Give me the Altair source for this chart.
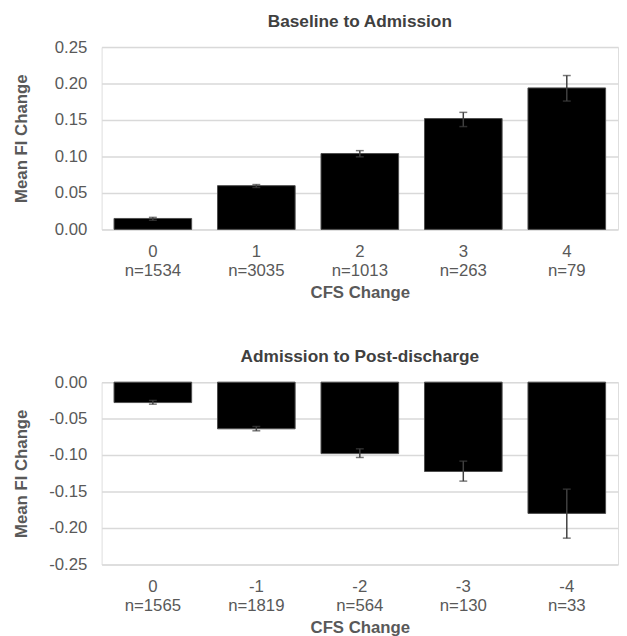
import altair as alt
import pandas as pd

# Top panel: Baseline to Admission
cfs_top = ["0", "1", "2", "3", "4"]
n_top = [1534, 3035, 1013, 263, 79]
mean_top = [0.015, 0.060, 0.104, 0.152, 0.194]
lo_top = [0.0125, 0.0575, 0.0995, 0.141, 0.176]
hi_top = [0.0165, 0.0615, 0.108, 0.1605, 0.211]

# Bottom panel: Admission to Post-discharge
cfs_bot = ["0", "-1", "-2", "-3", "-4"]
n_bot = [1565, 1819, 564, 130, 33]
mean_bot = [-0.028, -0.064, -0.098, -0.1225, -0.180]
lo_bot = [-0.0302, -0.0667, -0.1033, -0.1357, -0.2139]
hi_bot = [-0.0251, -0.0608, -0.0914, -0.1083, -0.1467]

ticks_top = [0.0, 0.05, 0.10, 0.15, 0.20, 0.25]
ticks_bot = [0.0, -0.05, -0.10, -0.15, -0.20, -0.25]

LABEL_COLOR = "#595959"
FONT = "Liberation Sans"
H = 185


def panel(cfs, n, mean, lo, hi, title, domain, ticks):
    cats = [f"{c}|n={k}" for c, k in zip(cfs, n)]
    df = pd.DataFrame({"cat": cats, "mean": mean, "lo": lo, "hi": hi})
    x_axis = alt.Axis(
        labelExpr="split(datum.value, '|')",
        labelAngle=0,
        ticks=False,
        domain=False,
        labelPadding=14,
        labelLineHeight=20,
        labelFontSize=17,
        labelColor=LABEL_COLOR,
        labelFont=FONT,
        titleFontSize=17,
        titleFont=FONT,
        titleFontWeight="bold",
        titleColor=LABEL_COLOR,
        titlePadding=6,
    )
    y_axis = alt.Axis(
        values=ticks,
        labelExpr="(datum.value < 0 ? '-' : '') + format(abs(datum.value), '.2f')",
        ticks=False,
        domain=False,
        labelPadding=15,
        labelFontSize=17,
        labelColor=LABEL_COLOR,
        labelFont=FONT,
        titleFontSize=17,
        titleFont=FONT,
        titleFontWeight="bold",
        titleColor=LABEL_COLOR,
        titleX=-72,
        titleY=H / 2,
        gridColor="#d9d9d9",
        gridWidth=1.5,
    )
    xs = alt.Scale(paddingInner=0.25, paddingOuter=0.12)
    ys = alt.Scale(domain=domain, nice=False)
    x = alt.X("cat:N", sort=cats, title="CFS Change", scale=xs, axis=x_axis)
    base = alt.Chart(df)
    bars = base.mark_bar(color="black", stroke="#4d4d4d", strokeWidth=1).encode(
        x=x, y=alt.Y("mean:Q", title="Mean FI Change", scale=ys, axis=y_axis)
    )
    rule = base.mark_rule(color="#404040", strokeWidth=1.5).encode(
        x=x, y=alt.Y("lo:Q", title="Mean FI Change", scale=ys, axis=y_axis), y2="hi:Q"
    )
    cap_lo = base.mark_tick(color="#404040", size=8, thickness=1.5).encode(
        x=x, y=alt.Y("lo:Q", title="Mean FI Change", scale=ys, axis=y_axis)
    )
    cap_hi = base.mark_tick(color="#404040", size=8, thickness=1.5).encode(
        x=x, y=alt.Y("hi:Q", title="Mean FI Change", scale=ys, axis=y_axis)
    )
    return alt.layer(bars, rule, cap_lo, cap_hi).properties(
        width=524,
        height=H,
        title=alt.TitleParams(
            title,
            fontSize=17.5,
            font=FONT,
            fontWeight="bold",
            color="#404040",
            anchor="middle",
            offset=8,
        ),
    )


top = panel(cfs_top, n_top, mean_top, lo_top, hi_top, "Baseline to Admission", [0, 0.25], ticks_top)
bot = panel(cfs_bot, n_bot, mean_bot, lo_bot, hi_bot, "Admission to Post-discharge", [-0.25, 0], ticks_bot)

chart = (
    alt.vconcat(top, bot, spacing=47)
    .properties(padding={"left": 4, "top": 0, "right": 0, "bottom": 0})
    .configure_view(stroke=None)
    .configure(font=FONT)
)

chart.save("out.html", embed_options={"renderer": "svg", "actions": False})
